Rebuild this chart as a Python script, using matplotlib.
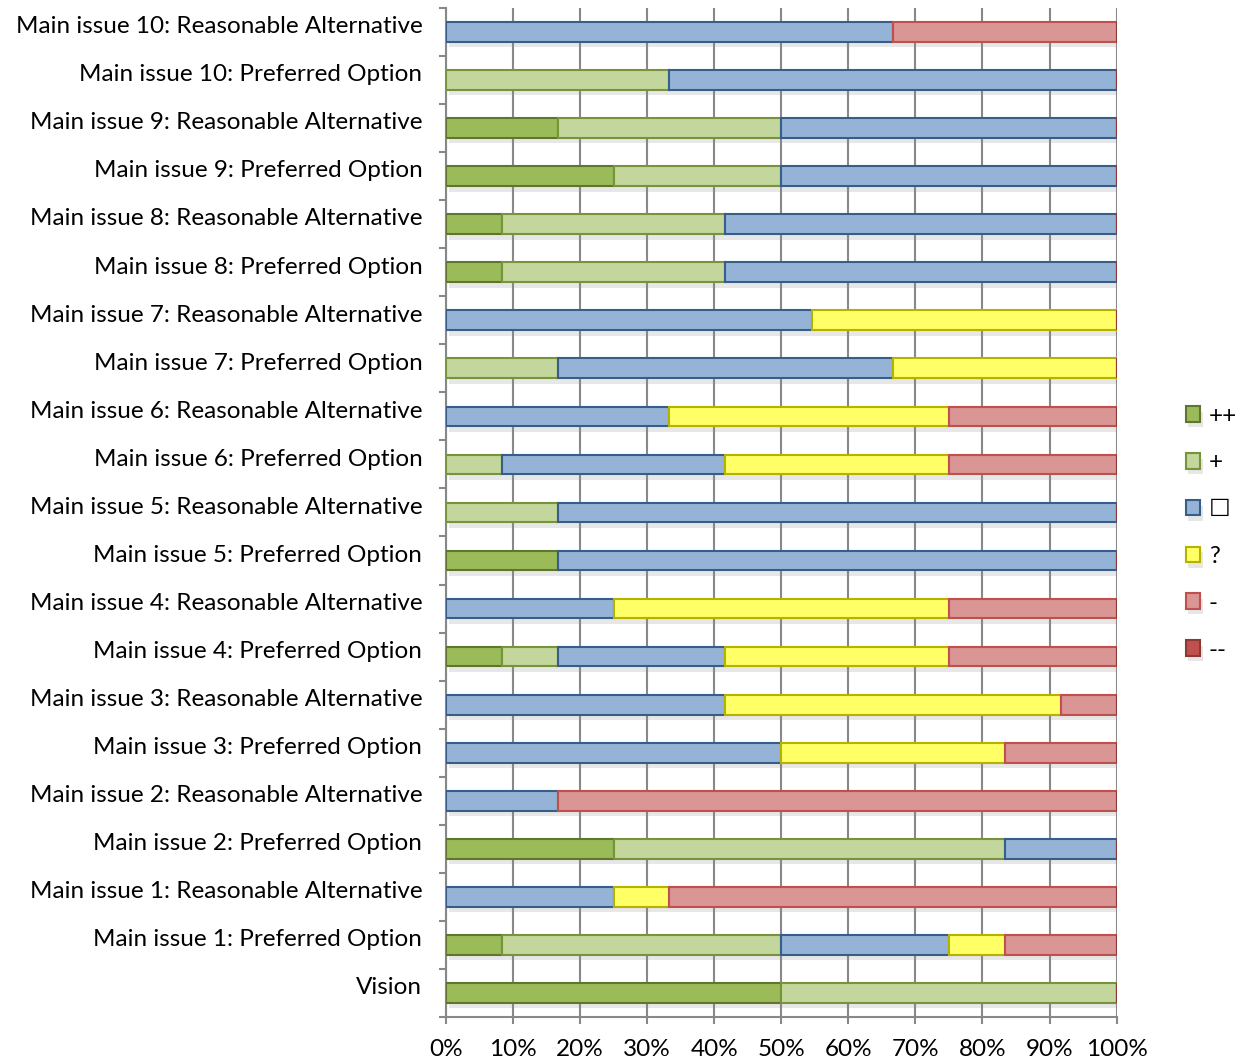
import matplotlib.pyplot as plt
import matplotlib.patheffects as pe
import numpy as np

plt.rcParams['font.family'] = ['Lato', 'DejaVu Sans']

# rows from bottom to top
categories = [
    "Vision",
    "Main issue 1: Preferred Option", "Main issue 1: Reasonable Alternative",
    "Main issue 2: Preferred Option", "Main issue 2: Reasonable Alternative",
    "Main issue 3: Preferred Option", "Main issue 3: Reasonable Alternative",
    "Main issue 4: Preferred Option", "Main issue 4: Reasonable Alternative",
    "Main issue 5: Preferred Option", "Main issue 5: Reasonable Alternative",
    "Main issue 6: Preferred Option", "Main issue 6: Reasonable Alternative",
    "Main issue 7: Preferred Option", "Main issue 7: Reasonable Alternative",
    "Main issue 8: Preferred Option", "Main issue 8: Reasonable Alternative",
    "Main issue 9: Preferred Option", "Main issue 9: Reasonable Alternative",
    "Main issue 10: Preferred Option", "Main issue 10: Reasonable Alternative",
]

# number of objectives scored in each effect class, per row
very_positive = [6, 1, 0, 3, 0, 0, 0, 1, 0, 2, 0, 0, 0, 0, 0, 1, 1, 3, 2, 0, 0]
positive      = [6, 5, 0, 7, 0, 0, 0, 1, 0, 0, 2, 1, 0, 2, 0, 4, 4, 3, 4, 4, 0]
neutral       = [0, 3, 3, 2, 2, 6, 5, 3, 3, 10, 10, 4, 4, 6, 6, 7, 7, 6, 6, 8, 8]
uncertain     = [0, 1, 1, 0, 0, 4, 6, 4, 6, 0, 0, 4, 5, 4, 5, 0, 0, 0, 0, 0, 0]
negative      = [0, 2, 8, 0, 10, 2, 1, 3, 3, 0, 0, 3, 3, 0, 0, 0, 0, 0, 0, 0, 4]
very_negative = [0] * 21

series = [very_positive, positive, neutral, uncertain, negative, very_negative]
labels = ["++", "+", "\u2610", "?", "-", "--"]
faces = ["#9bbb59", "#c3d69b", "#95b3d7", "#ffff66", "#d99694", "#c0504d"]
edges = ["#5f7530", "#77933c", "#385d8a", "#b3b300", "#c0504d", "#8c3836"]

counts = np.array(series, dtype=float)
shares = counts / counts.sum(axis=0) * 100

fig = plt.figure(figsize=(12.56, 10.62), dpi=100)
ax = fig.add_axes([0.355, 0.0424, 0.534, 0.9501])

y = np.arange(len(categories))
shadow = [pe.SimplePatchShadow(offset=(2, -4), shadow_rgbFace='#888888', alpha=0.2), pe.Normal()]
left = np.zeros(len(categories))
for vals, lab, fc, ec in zip(shares, labels, faces, edges):
    bars = ax.barh(y, vals, left=left, height=0.41, color=fc, edgecolor=ec,
                   linewidth=1.5, label=lab, zorder=3)
    for b in bars:
        b.set_path_effects(shadow)
    left += vals

ax.set_xlim(0, 100)
ax.set_ylim(-0.5, len(categories) - 0.5)
ax.set_xticks(np.arange(0, 101, 10))
ax.set_xticklabels([f"{v}%" for v in range(0, 101, 10)], fontsize=17.5)
# category labels sit a little above the bar centres
ax.set_yticks(y + 0.15)
ax.set_yticklabels(categories, fontsize=17.5)
ax.set_yticks(np.arange(-0.5, len(categories), 1), minor=True)

ax.tick_params(axis='y', which='major', length=0, pad=17)
ax.tick_params(axis='y', which='minor', length=5, width=1.5, color='#888888')
ax.tick_params(axis='x', length=5, width=1.5, color='#888888', pad=11)
ax.xaxis.grid(True, color='#888888', linewidth=1.5, zorder=0)
ax.set_axisbelow(True)

for side in ['top', 'right']:
    ax.spines[side].set_visible(False)
for side in ['left', 'bottom']:
    ax.spines[side].set_color('#888888')
    ax.spines[side].set_linewidth(1.5)

fig.legend(loc='center left', bbox_to_anchor=(0.944, 0.498), frameon=False,
           fontsize=17.5, handlelength=0.6, handleheight=0.6, handletextpad=0.35,
           labelspacing=1.06, borderpad=0, borderaxespad=0)

fig.savefig("out.png", dpi=100, facecolor='white')
